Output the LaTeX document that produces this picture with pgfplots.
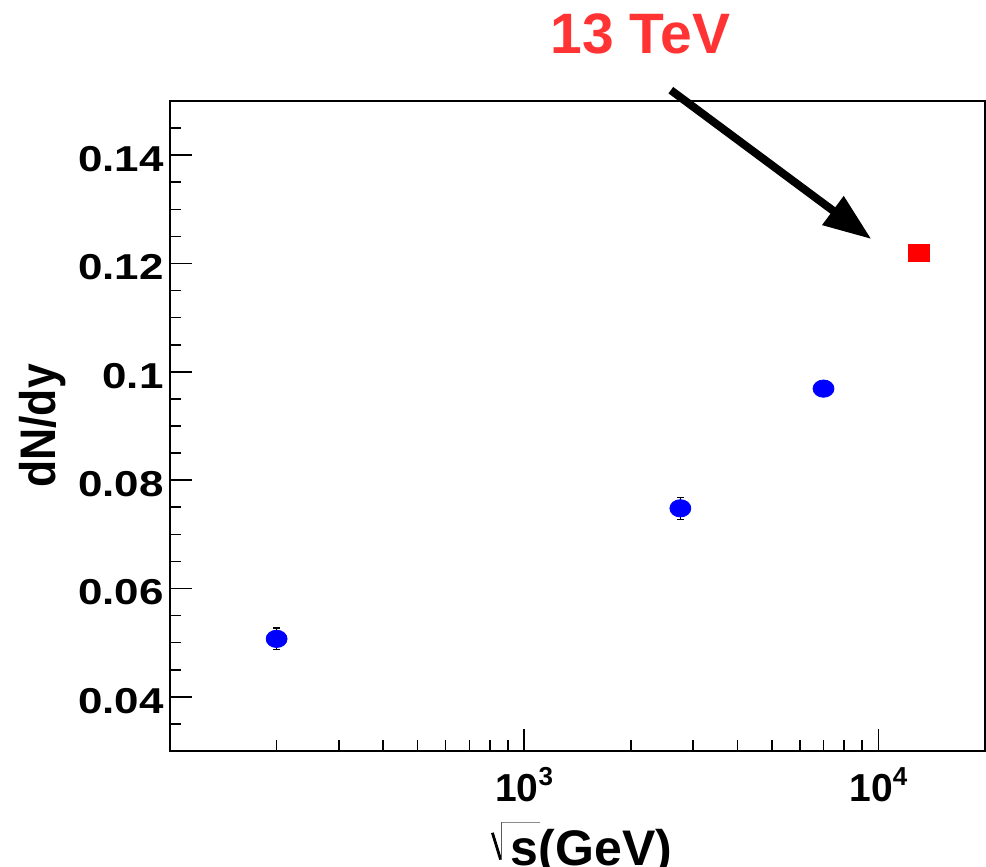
\documentclass[border=0pt]{standalone}
\usepackage{pgfplots}
\pgfplotsset{compat=1.18}
\usepackage{graphicx}
\usepackage{fontspec}
\setmainfont{Liberation Sans}
\usetikzlibrary{arrows.meta}
\definecolor{tevred}{RGB}{255,51,51}
\newcommand\yl[1]{\scalebox{1.22}[1]{#1}}
\newcommand\xl[1]{10\raisebox{8pt}{\fontsize{13}{14}\selectfont #1}}
\newcommand\sqrts{\raisebox{3pt}{\rotatebox{17}{\rule{1.4pt}{14pt}}}\kern-0.6pt\raisebox{3pt}{\textcolor{black!65}{\rule{0.6pt}{19pt}}}\rlap{\raisebox{21.6pt}{\textcolor{black!45}{\rule{19pt}{0.5pt}}}}\kern4.5pt s}

\pgfplotstableread{
x y e
200 0.0507 0.002
2760 0.0748 0.002
7000 0.0969 0.0005
}\blue

\begin{document}
\begin{tikzpicture}
\begin{axis}[
  name=ax,
  width=407.5pt, height=325pt, scale only axis,
  xmode=log, xmin=100, xmax=20000, ymin=0.03, ymax=0.15,
  clip=false,
  axis line style={line width=0.8pt},
  tick style={line width=0.8pt, black},
  tick pos=left, tick align=inside,
  major tick length=11pt, minor tick length=5.5pt,
  xtick={1000,10000},
  xticklabels={{\xl{3}},{\xl{4}}},
  minor xtick={200,300,400,500,600,700,800,900,2000,3000,4000,5000,6000,7000,8000,9000},
  ytick={0.04,0.06,0.08,0.1,0.12,0.14},
  yticklabels={\yl{0.04},\yl{0.06},\yl{0.08},\yl{0.1},\yl{0.12},\yl{0.14}},
  minor ytick={0.035,0.045,0.05,0.055,0.065,0.07,0.075,0.085,0.09,0.095,0.105,0.11,0.115,0.125,0.13,0.135,0.145},
  yticklabel style={font=\bfseries\fontsize{18}{20}\selectfont, anchor=east, inner sep=0pt, xshift=-3pt, yshift=-2pt},
  xticklabel style={font=\bfseries\fontsize{19.5}{21}\selectfont, anchor=north, inner sep=0pt, yshift=-8pt},
  xlabel={\sqrts(GeV)},
  ylabel={\scalebox{0.89}[1]{dN/dy}},
  xlabel style={font=\bfseries\fontsize{25}{28}\selectfont, at={(axis description cs:0.505,-0.1769)}, anchor=base, inner sep=0pt},
  ylabel style={font=\bfseries\fontsize{25}{28}\selectfont, at={(axis description cs:-0.1411,0.5)}, anchor=base, inner sep=0pt},
]
\addplot[only marks, mark=*, color=blue, mark size=4.33pt,
  mark options={xscale=1.21, fill=blue, draw=blue},
  error bars/.cd, y dir=both, y explicit,
  error bar style={black, line width=0.6pt},
  error mark options={black, rotate=90, mark size=1.6pt, line width=0.6pt}]
  table[x=x, y=y, y error=e] {\blue};
\addplot[only marks, mark=square*, color=red, mark size=4.3pt,
  mark options={xscale=1.22, fill=red, draw=red}]
  coordinates {(13000,0.122)};
\draw[line width=4pt, -{Triangle[length=24pt,width=17pt]}]
  (axis cs:2594,0.1520) -- (axis cs:9556,0.1245);
\node[anchor=base, text=tevred, inner sep=0pt, font=\bfseries\fontsize{28.5}{30}\selectfont]
  at (axis cs:2128,0.1588) {13 TeV};
\end{axis}
\pgfresetboundingbox
\path[use as bounding box] ([shift={(-85pt,-58pt)}]ax.south west) rectangle ([shift={(0.5pt,50.5pt)}]ax.north east);
\end{tikzpicture}
\end{document}
